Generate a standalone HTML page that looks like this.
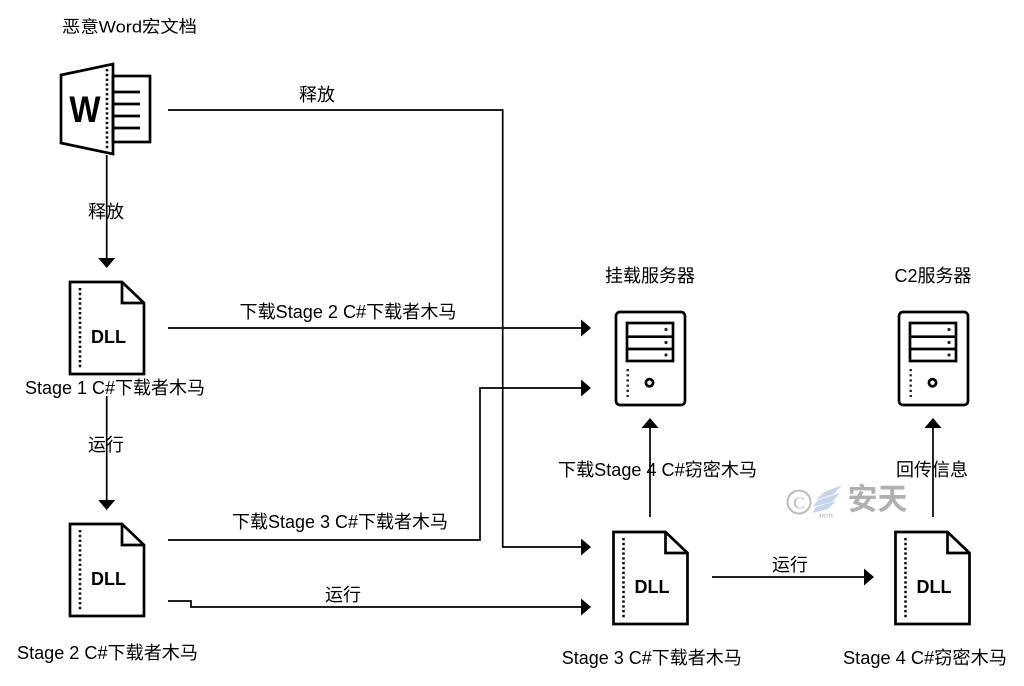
<!DOCTYPE html>
<html>
<head>
<meta charset="utf-8">
<style>
  html,body{margin:0;padding:0;background:#fff;}
  svg{display:block;}
  text{font-family:"Liberation Sans","Noto Sans CJK SC",sans-serif;fill:#000;}
</style>
</head>
<body>
<svg width="1024" height="686" viewBox="0 0 1024 686" xmlns="http://www.w3.org/2000/svg">
  <rect width="1024" height="686" fill="#fff"/>

  <!-- Title -->
  <text x="129.5" y="27" font-size="17" text-anchor="middle" dominant-baseline="central" textLength="135" lengthAdjust="spacingAndGlyphs">恶意Word宏文档</text>

  <!-- Word icon -->
  <g stroke="#000" stroke-width="2.7" fill="none" stroke-linejoin="miter">
    <polygon points="61,75 113,64 113,154 61,143" fill="#fff"/>
    <rect x="113" y="76" width="37" height="66"/>
    <line x1="113" y1="92" x2="140" y2="92"/>
    <line x1="113" y1="104" x2="140" y2="104"/>
    <line x1="113" y1="116" x2="140" y2="116"/>
    <line x1="113" y1="128" x2="140" y2="128"/>
  </g>
  <line x1="107" y1="69" x2="107" y2="150" stroke="#111" stroke-width="2.6" stroke-dasharray="2.4 2.4"/>
  <text x="85" y="110" font-size="33" font-weight="bold" text-anchor="middle" dominant-baseline="central" transform="translate(85,110) scale(1,1.12) translate(-85,-110)">W</text>

  <!-- Connectors -->
  <g stroke="#000" stroke-width="1.7" fill="none">
    <polyline points="168,110 502.7,110 502.7,547 581,547"/>
    <line x1="106.7" y1="155" x2="106.7" y2="259"/>
    <line x1="106.7" y1="396" x2="106.7" y2="501"/>
    <line x1="168" y1="328" x2="581" y2="328"/>
    <polyline points="168,540 480,540 480,388 581,388"/>
    <polyline points="168,601 191,601 191,607 581,607"/>
    <line x1="650" y1="517" x2="650" y2="428"/>
    <line x1="933" y1="517" x2="933" y2="428"/>
    <line x1="712" y1="577" x2="864" y2="577"/>
  </g>

  <!-- Arrowheads -->
  <g fill="#000">
    <polygon points="591,547 581,538.5 581,555.5"/>
    <polygon points="106.7,268 98.2,258 115.2,258"/>
    <polygon points="106.7,510 98.2,500 115.2,500"/>
    <polygon points="591,328 581,319.5 581,336.5"/>
    <polygon points="591,388 581,379.5 581,396.5"/>
    <polygon points="591,607 581,598.5 581,615.5"/>
    <polygon points="650,418 641.5,428 658.5,428"/>
    <polygon points="933,418 924.5,428 941.5,428"/>
    <polygon points="874,577 864,568.5 864,585.5"/>
  </g>

  <!-- Connector labels -->
  <g font-size="18" text-anchor="middle" dominant-baseline="central">
    <text x="317" y="95">释放</text>
    <text x="106" y="212">释放</text>
    <text x="106" y="445">运行</text>
    <text x="348" y="312" textLength="217" lengthAdjust="spacingAndGlyphs">下载Stage 2 C#下载者木马</text>
    <text x="340" y="522" textLength="216" lengthAdjust="spacingAndGlyphs">下载Stage 3 C#下载者木马</text>
    <text x="343" y="595">运行</text>
    <text x="657.5" y="470" textLength="199" lengthAdjust="spacingAndGlyphs">下载Stage 4 C#窃密木马</text>
    <text x="932" y="470">回传信息</text>
    <text x="790" y="565">运行</text>
  </g>

  <!-- Node labels -->
  <g font-size="18" text-anchor="middle" dominant-baseline="central">
    <text x="115" y="388" textLength="180" lengthAdjust="spacingAndGlyphs">Stage 1 C#下载者木马</text>
    <text x="107.5" y="653" textLength="181" lengthAdjust="spacingAndGlyphs">Stage 2 C#下载者木马</text>
    <text x="651.7" y="658" textLength="180" lengthAdjust="spacingAndGlyphs">Stage 3 C#下载者木马</text>
    <text x="925" y="658" textLength="164" lengthAdjust="spacingAndGlyphs">Stage 4 C#窃密木马</text>
    <text x="650" y="276">挂载服务器</text>
    <text x="933" y="276">C2服务器</text>
  </g>

  <!-- DLL1 -->
  <g transform="translate(70,282)">
    <path d="M0,0 H52 L74,21 V92 H0 Z" fill="#fff" stroke="#000" stroke-width="2.7"/>
    <path d="M52,0 V21 H74" fill="none" stroke="#000" stroke-width="2.7"/>
    <line x1="10" y1="6" x2="10" y2="87" stroke="#111" stroke-width="2.6" stroke-dasharray="2.4 2.4"/>
    <text x="38.5" y="55" font-size="18" font-weight="bold" text-anchor="middle" dominant-baseline="central">DLL</text>
  </g>
  <!-- DLL2 -->
  <g transform="translate(70,524)">
    <path d="M0,0 H52 L74,21 V92 H0 Z" fill="#fff" stroke="#000" stroke-width="2.7"/>
    <path d="M52,0 V21 H74" fill="none" stroke="#000" stroke-width="2.7"/>
    <line x1="10" y1="6" x2="10" y2="87" stroke="#111" stroke-width="2.6" stroke-dasharray="2.4 2.4"/>
    <text x="38.5" y="55" font-size="18" font-weight="bold" text-anchor="middle" dominant-baseline="central">DLL</text>
  </g>
  <!-- DLL3 -->
  <g transform="translate(613.5,532)">
    <path d="M0,0 H52 L74,21 V92 H0 Z" fill="#fff" stroke="#000" stroke-width="2.7"/>
    <path d="M52,0 V21 H74" fill="none" stroke="#000" stroke-width="2.7"/>
    <line x1="10" y1="6" x2="10" y2="87" stroke="#111" stroke-width="2.6" stroke-dasharray="2.4 2.4"/>
    <text x="38.5" y="55" font-size="18" font-weight="bold" text-anchor="middle" dominant-baseline="central">DLL</text>
  </g>
  <!-- DLL4 -->
  <g transform="translate(895.5,532)">
    <path d="M0,0 H52 L74,21 V92 H0 Z" fill="#fff" stroke="#000" stroke-width="2.7"/>
    <path d="M52,0 V21 H74" fill="none" stroke="#000" stroke-width="2.7"/>
    <line x1="10" y1="6" x2="10" y2="87" stroke="#111" stroke-width="2.6" stroke-dasharray="2.4 2.4"/>
    <text x="38.5" y="55" font-size="18" font-weight="bold" text-anchor="middle" dominant-baseline="central">DLL</text>
  </g>

  <!-- Server 1 -->
  <g transform="translate(616,312)" stroke="#000" stroke-width="2.7" fill="none">
    <rect x="0" y="0" width="69" height="93" rx="4" fill="#fff"/>
    <rect x="11" y="11" width="46" height="38"/>
    <line x1="11" y1="24.7" x2="57" y2="24.7"/>
    <line x1="11" y1="37" x2="57" y2="37"/>
    <circle cx="33.5" cy="70.7" r="3.6"/>
    <g fill="#222" stroke="none">
      <circle cx="50" cy="17.5" r="1.6"/>
      <circle cx="50" cy="30.5" r="1.6"/>
      <circle cx="50" cy="43" r="1.6"/>
    </g>
    <line x1="11.7" y1="57" x2="11.7" y2="85" stroke="#222" stroke-width="2.4" stroke-dasharray="2.2 3"/>
  </g>
  <!-- Server 2 -->
  <g transform="translate(899,312)" stroke="#000" stroke-width="2.7" fill="none">
    <rect x="0" y="0" width="69" height="93" rx="4" fill="#fff"/>
    <rect x="11" y="11" width="46" height="38"/>
    <line x1="11" y1="24.7" x2="57" y2="24.7"/>
    <line x1="11" y1="37" x2="57" y2="37"/>
    <circle cx="33.5" cy="70.7" r="3.6"/>
    <g fill="#222" stroke="none">
      <circle cx="50" cy="17.5" r="1.6"/>
      <circle cx="50" cy="30.5" r="1.6"/>
      <circle cx="50" cy="43" r="1.6"/>
    </g>
    <line x1="11.7" y1="57" x2="11.7" y2="85" stroke="#222" stroke-width="2.4" stroke-dasharray="2.2 3"/>
  </g>

  <!-- Watermark -->
  <g opacity="0.9">
    <circle cx="799" cy="502" r="11.5" fill="none" stroke="#b5b5b5" stroke-width="2"/>
    <text x="799" y="503" font-size="17" text-anchor="middle" dominant-baseline="central" style="font-family:'Liberation Serif',serif;fill:#b0b0b0">C</text>
    <g fill="#c3d1e6">
      <polygon points="824,492 842,485 834,494 816,500"/>
      <polygon points="818,500 840,493 832,502 812,507"/>
      <polygon points="816,507 836,501 828,509 812,513"/>
    </g>
    <text x="826" y="517" font-size="5" text-anchor="middle" dominant-baseline="central" style="fill:#999;font-family:'Liberation Serif',serif">ANTIY</text>
    <text x="877.5" y="500" font-size="30" font-weight="bold" text-anchor="middle" dominant-baseline="central" style="fill:#a8a8a8">安天</text>
  </g>
</svg>
</body>
</html>
